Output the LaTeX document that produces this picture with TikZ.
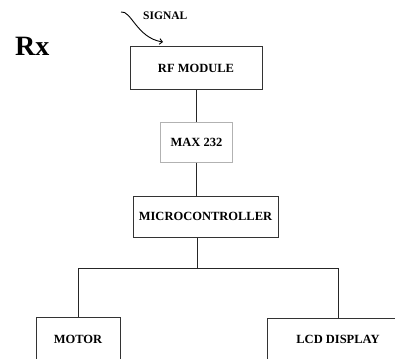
\documentclass[tikz,border=0pt]{standalone}
\usepackage{fontspec}
\setmainfont{Liberation Serif}
\usetikzlibrary{arrows.meta}

\begin{document}
\begin{tikzpicture}[x=1pt, y=-1pt,
        block/.style={draw=black!80, line width=1pt, fill=white, font=\bfseries\fontsize{12.5}{14}\selectfont, inner sep=0pt},
        faint/.style={block, draw=black!30},
        link/.style={draw=black!85, line width=1pt},
        sig/.style={-{Straight Barb[angle=90:4pt, line width=0.9pt]}, line width=0.9pt}
    ]
        \clip (0,0) rectangle (395,358);
        \fill[white] (0,0) rectangle (395,358);

        % Title and input
        \node[anchor=base west, font=\bfseries\fontsize{28}{30}\selectfont, inner sep=0pt] (rx) at (15,56) {Rx};
        \node[anchor=base west, font=\bfseries\fontsize{11.5}{13}\selectfont, inner sep=0pt] (signal) at (143,20) {SIGNAL};

        % Blocks
        \node[block, minimum width=132, minimum height=43] (rf) at (196,68.5) {RF MODULE};
        \node[faint, minimum width=72, minimum height=39] (max) at (196.5,142.5) {MAX 232};
        \node[block, minimum width=145, minimum height=41] (mcu) at (205.5,216.5) {MICROCONTROLLER};
        \node[block, minimum width=84, minimum height=44] (motor) at (78,339) {MOTOR};
        \node[block, minimum width=142, minimum height=42] (lcd) at (338,339) {LCD DISPLAY};

        % Signal arrow
        \coordinate (sigin) at (121,12);
        \coordinate (sigout) at (163,42);
        \draw[sig] (sigin) .. controls (131,10) and (137,38) .. (sigout);

        % Links
        \coordinate (split) at (197,268);
        \draw[link] (rf.south) -- (rf.south |- max.north);
        \draw[link] (max.south) -- (max.south |- mcu.north);
        \draw[link] (split |- mcu.south) -- (split);
        \draw[link] (split) -| (motor.north);
        \draw[link] (split) -| (lcd.north);
    \end{tikzpicture}
\end{document}
